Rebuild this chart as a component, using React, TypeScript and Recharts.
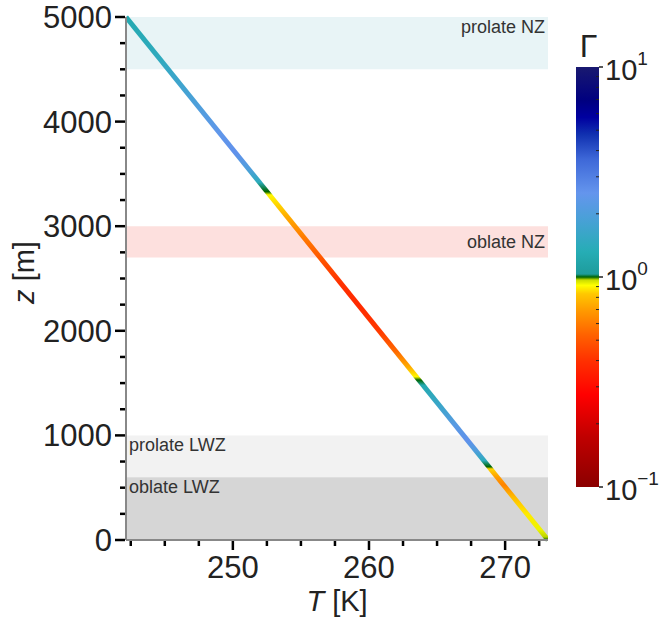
import { LineChart, Line, XAxis, YAxis, ReferenceArea, Label } from 'recharts';

// temperature profile endpoints
const TEMPS = [242.15, 273.15];
const HEIGHTS = [5000, 0];

// Gamma sampled along the profile (z in m)
const GAMMA_Z = [5000, 4600, 4200, 3900, 3700, 3550, 3420, 3330, 3300, 3100, 2900, 2700, 2450, 2250, 2000, 1800, 1650, 1560, 1530, 1480, 1300, 1100, 950, 850, 760, 700, 680, 600, 525, 420, 250, 100, 30, 0];
const GAMMA = [1.25, 1.45, 1.9, 2.4, 2.6, 2.0, 1.4, 1.0, 0.9, 0.75, 0.6, 0.5, 0.4, 0.38, 0.42, 0.55, 0.75, 0.9, 1.0, 1.25, 1.6, 2.2, 2.6, 2.0, 1.4, 1.0, 0.85, 0.7, 0.62, 0.78, 0.88, 0.93, 0.97, 1.0];

const X_TICKS = [242.5, 245, 247.5, 250, 252.5, 255, 257.5, 260, 262.5, 265, 267.5, 270, 272.5];
const Y_TICKS = [0, 250, 500, 750, 1000, 1250, 1500, 1750, 2000, 2250, 2500, 2750, 3000, 3250, 3500, 3750, 4000, 4250, 4500, 4750, 5000];

// zones
const ZONE_NAMES = ['prolate NZ', 'oblate NZ', 'prolate LWZ', 'oblate LWZ'];
const ZONE_LOW = [4500, 2700, 600, 0];
const ZONE_HIGH = [5000, 3000, 1000, 600];
const ZONE_FILL = ['#e8f4f6', '#fde0de', '#f2f2f2', '#d6d6d6'];
const ZONE_LABEL_POS = ['insideTopRight', 'insideRight', 'insideTopLeft', 'insideTopLeft'];

// colormap, position on log10 scale from 0.1 (0) to 10 (1)
const CMAP_POS = [0, 0.12, 0.22, 0.3, 0.36, 0.42, 0.46, 0.48, 0.493, 0.5, 0.507, 0.56, 0.64, 0.7, 0.78, 0.84, 0.88, 0.92, 1];
const CMAP_COL = ['#8b0000', '#c00000', '#ff0000', '#ff3000', '#ff6000', '#ff9a00', '#ffc800', '#ffff00', '#c8dc00', '#006400', '#1e9c9c', '#26adb5', '#4aa0d8', '#6495ed', '#3e68d8', '#1030b0', '#0000a0', '#000080', '#191970'];

const FONT = 'Liberation Sans, Arial, sans-serif';

const hex = (c: string) => [1, 3, 5].map((i) => parseInt(c.slice(i, i + 2), 16));

function cmap(g: number) {
  const t = Math.min(1, Math.max(0, (Math.log10(g) + 1) / 2));
  for (let i = 0; i < CMAP_POS.length - 1; i++) {
    if (t <= CMAP_POS[i + 1]) {
      const f = (t - CMAP_POS[i]) / (CMAP_POS[i + 1] - CMAP_POS[i]);
      const a = hex(CMAP_COL[i]);
      const b = hex(CMAP_COL[i + 1]);
      return `rgb(${a.map((v, k) => Math.round(v + (b[k] - v) * f)).join(',')})`;
    }
  }
  return CMAP_COL[CMAP_COL.length - 1];
}

const data = TEMPS.map((T, i) => ({ T, z: HEIGHTS[i] }));

const XTick = ({ x, y, payload }: any) => {
  const major = payload.value % 10 === 0;
  return (
    <g>
      <line x1={x} x2={x} y1={y + 1} y2={y + (major ? 10 : 6)} stroke="#000" strokeWidth={2.5} />
      {major && (
        <text x={x} y={y + 38} textAnchor="middle" fontSize={31} fill="#222" fontFamily={FONT}>
          {payload.value}
        </text>
      )}
    </g>
  );
};

const YTick = ({ x, y, payload }: any) => {
  const major = payload.value % 1000 === 0;
  return (
    <g>
      <line x1={x - 1} x2={x - (major ? 11 : 6)} y1={y} y2={y} stroke="#000" strokeWidth={2.5} />
      {major && (
        <text x={x - 14} y={y + 11} textAnchor="end" fontSize={31} fill="#222" fontFamily={FONT}>
          {payload.value}
        </text>
      )}
    </g>
  );
};

function ColorBar() {
  const top = 67;
  const bottom = 487;
  const left = 576;
  const w = 23;
  const h = bottom - top;
  const minor: number[] = [];
  [-1, 0].forEach((d) => [2, 3, 4, 5, 6, 7, 8, 9].forEach((m) => minor.push(Math.log10(m) + d)));
  const yOf = (lg: number) => bottom - ((lg + 1) / 2) * h;
  return (
    <svg width={660} height={619} style={{ position: 'absolute', left: 0, top: 0, pointerEvents: 'none' }}>
      <defs>
        <linearGradient id="cbar" x1="0" y1="1" x2="0" y2="0">
          {CMAP_POS.map((p, i) => (
            <stop key={i} offset={p} stopColor={CMAP_COL[i]} />
          ))}
        </linearGradient>
      </defs>
      <rect x={left} y={top} width={w} height={h} fill="url(#cbar)" />
      {minor.map((lg, i) => (
        <line key={i} x1={left + w - 3} x2={left + w} y1={yOf(lg)} y2={yOf(lg)} stroke="#222" strokeWidth={1} />
      ))}
      {[1, 0, -1].map((e) => (
        <g key={e}>
          <line x1={left + w} x2={left + w + 4} y1={yOf(e)} y2={yOf(e)} stroke="#222" strokeWidth={1.5} />
          <text x={left + w + 6} y={yOf(e) + 13} fontSize={29} fill="#222" fontFamily={FONT}>
            10
            <tspan dy={-15} fontSize={19}>
              {e === -1 ? '\u22121' : e}
            </tspan>
          </text>
        </g>
      ))}
      <text x={left + w / 2 + 1} y={top - 10} textAnchor="middle" fontSize={32} fill="#222" fontFamily={FONT}>
        Γ
      </text>
    </svg>
  );
}

export default function App() {
  return (
    <div style={{ position: 'absolute', left: 0, top: 0, width: 660, height: 619, background: '#fff' }}>
      <LineChart width={660} height={619} data={data} margin={{ top: 17, right: 112, bottom: 0, left: 0 }}>
        <defs>
          <linearGradient id="gammaLine" x1="0" y1="0" x2="0" y2="1">
            {GAMMA_Z.map((z, i) => (
              <stop key={i} offset={(HEIGHTS[0] - z) / (HEIGHTS[0] - HEIGHTS[1])} stopColor={cmap(GAMMA[i])} />
            ))}
          </linearGradient>
        </defs>
        <XAxis
          dataKey="T"
          type="number"
          domain={[TEMPS[0], TEMPS[1]]}
          allowDataOverflow
          ticks={X_TICKS}
          interval={0}
          tick={<XTick />}
          tickLine={false}
          tickSize={0}
          tickMargin={0}
          height={79}
          axisLine={{ stroke: '#888', strokeWidth: 2 }}
        >
          <Label
            content={({ viewBox }: any) => (
              <text x={viewBox.x + viewBox.width / 2} y={viewBox.y + 71} textAnchor="middle" fontSize={29} fill="#222" fontFamily={FONT}>
                <tspan fontStyle="italic">T</tspan> [K]
              </text>
            )}
          />
        </XAxis>
        <YAxis
          dataKey="z"
          type="number"
          domain={[0, 5000]}
          ticks={Y_TICKS}
          interval={0}
          tick={<YTick />}
          tickLine={false}
          tickSize={0}
          tickMargin={0}
          width={126}
          axisLine={{ stroke: '#888', strokeWidth: 2 }}
        >
          <Label
            content={({ viewBox }: any) => {
              const cx = 34;
              const cy = viewBox.y + viewBox.height / 2 - 6;
              return (
                <text x={cx} y={cy} transform={`rotate(-90 ${cx} ${cy})`} textAnchor="middle" fontSize={29} fill="#222" fontFamily={FONT}>
                  <tspan fontStyle="italic">z</tspan> [m]
                </text>
              );
            }}
          />
        </YAxis>
        {ZONE_NAMES.map((name, i) => (
          <ReferenceArea
            key={name}
            y1={ZONE_LOW[i]}
            y2={ZONE_HIGH[i]}
            fill={ZONE_FILL[i]}
            fillOpacity={1}
            stroke="none"
            ifOverflow="extendDomain"
            label={{ value: name, position: ZONE_LABEL_POS[i] as any, offset: 3, fontSize: 18, fill: '#333', fontFamily: FONT }}
          />
        ))}
        <Line
          dataKey="z"
          type="linear"
          stroke="url(#gammaLine)"
          strokeWidth={5}
          dot={false}
          activeDot={false}
          isAnimationActive={false}
        />
      </LineChart>
      <ColorBar />
    </div>
  );
}
